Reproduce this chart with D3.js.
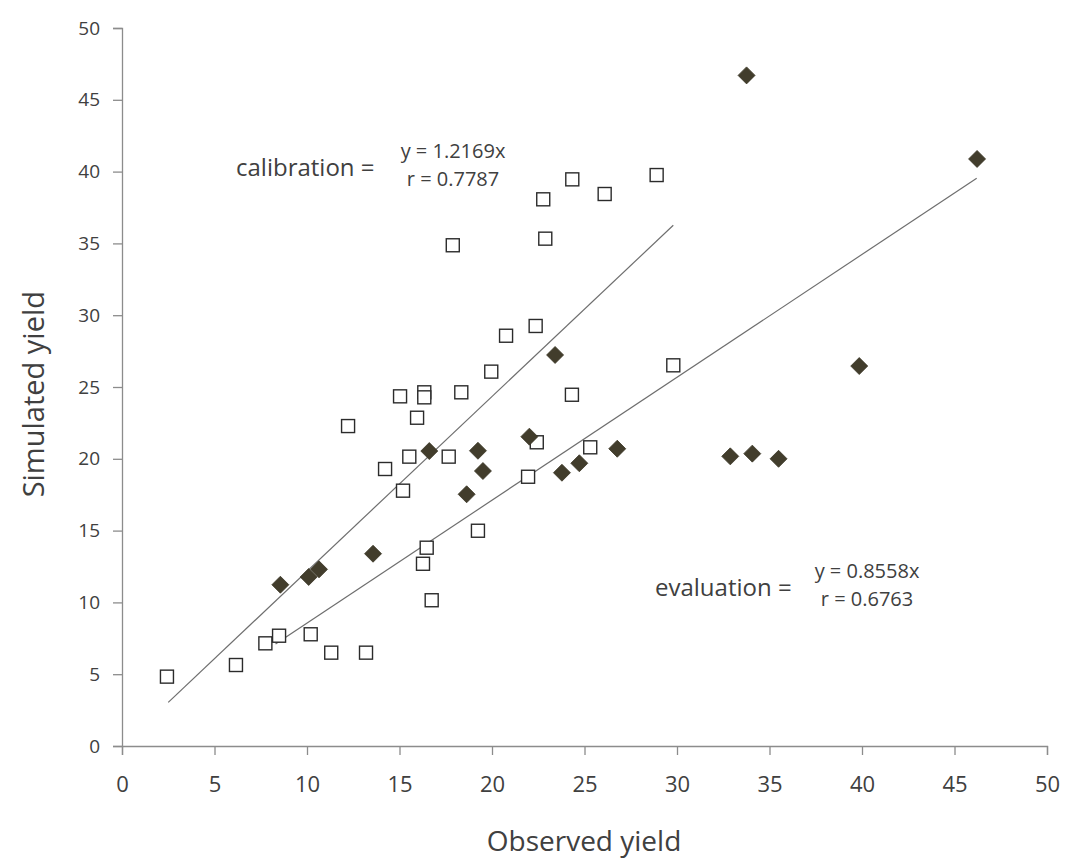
<!DOCTYPE html>
<html>
<head>
<meta charset="utf-8">
<script src="https://cdn.jsdelivr.net/npm/d3@7"></script>
<style>
  body { margin: 0; background: #fff; }
  svg text { font-family: "Open Sans", "Noto Sans", sans-serif; fill: #404040; }
</style>
</head>
<body>
<svg id="chart" width="1065" height="862"></svg>
<script>

// Calibration set (open squares): observed, simulated
const calibObserved = [2.43, 6.16, 7.75, 8.49, 10.2, 11.31, 13.19, 12.22, 14.22, 15.19, 15.03, 15.53,
    15.95, 16.34, 16.34, 16.47, 16.27, 16.74, 17.88, 17.66, 18.34, 19.24, 19.96, 20.76, 22.36,
    21.95, 22.42, 22.88, 22.77, 24.34, 24.32, 25.31, 26.09, 28.9, 29.8];
const calibSimulated = [4.83, 5.64, 7.15, 7.68, 7.78, 6.5, 6.5, 22.28, 19.29, 17.78, 24.35, 20.15,
    22.86, 24.63, 24.28, 13.81, 12.69, 10.15, 34.87, 20.15, 24.63, 14.99, 26.07, 28.57, 29.25,
    18.75, 21.15, 35.33, 38.07, 39.46, 24.46, 20.8, 38.44, 39.76, 26.51];

// Evaluation set (filled diamonds)
const evalObserved = [8.56, 10.09, 10.65, 13.57, 16.61, 18.63, 19.24, 19.51, 22.02, 23.41, 23.78,
    24.72, 26.77, 32.88, 34.07, 35.49, 33.76, 39.85, 46.22];
const evalSimulated = [11.23, 11.77, 12.3, 13.39, 20.54, 17.53, 20.56, 19.15, 21.54, 27.23, 19.03,
    19.69, 20.7, 20.17, 20.36, 20.0, 46.7, 26.46, 40.88];

// Fitted lines through origin: slope and x extent
const calibFit = {slope: 1.2169, r: 0.7787, from: 2.5, to: 29.8};
const evalFit = {slope: 0.8558, r: 0.6763, from: 8.3, to: 46.2};

const ticks = [0, 5, 10, 15, 20, 25, 30, 35, 40, 45, 50];

const svg = d3.select("#chart");

const x = d3.scaleLinear().domain([0, 50]).range([122, 1047]);
const y = d3.scaleLinear().domain([0, 50]).range([746, 28]);

// Axes
const yAxis = svg.append("g")
    .attr("transform", `translate(${x(0)},0)`)
    .call(d3.axisLeft(y).tickValues(ticks).tickSize(9).tickPadding(13));
const xAxis = svg.append("g")
    .attr("transform", `translate(0,${y(0)})`)
    .call(d3.axisBottom(x).tickValues(ticks).tickSize(9).tickPadding(21));

for (let ax of [xAxis, yAxis]) {
    ax.select(".domain").attr("stroke", "#8c8c8c").attr("stroke-width", 1.3);
    ax.selectAll(".tick line").attr("stroke", "#8c8c8c").attr("stroke-width", 1.3);
    ax.selectAll(".tick text").attr("fill", "#3a3a3a").style("font-family", "Open Sans, sans-serif");
}
yAxis.selectAll(".tick text").style("font-size", "19px");
xAxis.selectAll(".tick text").style("font-size", "22px");

// Axis titles
svg.append("text")
    .attr("x", 584).attr("y", 851)
    .attr("text-anchor", "middle")
    .style("font-size", "28px")
    .text("Observed yield");
svg.append("text")
    .attr("transform", `translate(44, ${y(24.5)}) rotate(-90)`)
    .attr("text-anchor", "middle")
    .style("font-size", "29px")
    .text("Simulated yield");

// Regression lines
for (let fit of [calibFit, evalFit]) {
    svg.append("line")
        .attr("x1", x(fit.from)).attr("y1", y(fit.from * fit.slope))
        .attr("x2", x(fit.to)).attr("y2", y(fit.to * fit.slope))
        .attr("stroke", "#6e6e6e")
        .attr("stroke-width", 1.2);
}

// Calibration squares
const calib = calibObserved.map((d, i) => [d, calibSimulated[i]]);
svg.append("g").selectAll("rect")
    .data(calib)
    .join("rect")
    .attr("x", d => x(d[0]) - 6.5)
    .attr("y", d => y(d[1]) - 6.5)
    .attr("width", 13)
    .attr("height", 13)
    .attr("fill", "#fff")
    .attr("stroke", "#2b2b2b")
    .attr("stroke-width", 1.4);

// Evaluation diamonds
const evals = evalObserved.map((d, i) => [d, evalSimulated[i]]);
svg.append("g").selectAll("path")
    .data(evals)
    .join("path")
    .attr("d", d => {
        const cx = x(d[0]), cy = y(d[1]), r = 8.5;
        return `M${cx},${cy - r}L${cx + r},${cy}L${cx},${cy + r}L${cx - r},${cy}Z`;
    })
    .attr("fill", "#423d2c")
    .attr("stroke", "#3a3626")
    .attr("stroke-width", 0.8);

// Equation labels
function equation(label, fit, lx, ly, ex, ey) {
    svg.append("text")
        .attr("x", lx).attr("y", ly)
        .style("font-size", "24px")
        .attr("fill", "#333")
        .text(label + " =");
    svg.append("text")
        .attr("x", ex).attr("y", ey)
        .attr("text-anchor", "middle")
        .style("font-size", "20px")
        .attr("fill", "#222")
        .text(`y = ${fit.slope}x`);
    svg.append("text")
        .attr("x", ex).attr("y", ey + 28)
        .attr("text-anchor", "middle")
        .style("font-size", "20px")
        .attr("fill", "#222")
        .text(`r = ${fit.r}`);
}
equation("calibration", calibFit, 236, 176, 453, 158);
equation("evaluation", evalFit, 655, 596, 867, 578);

</script>
</body>
</html>
